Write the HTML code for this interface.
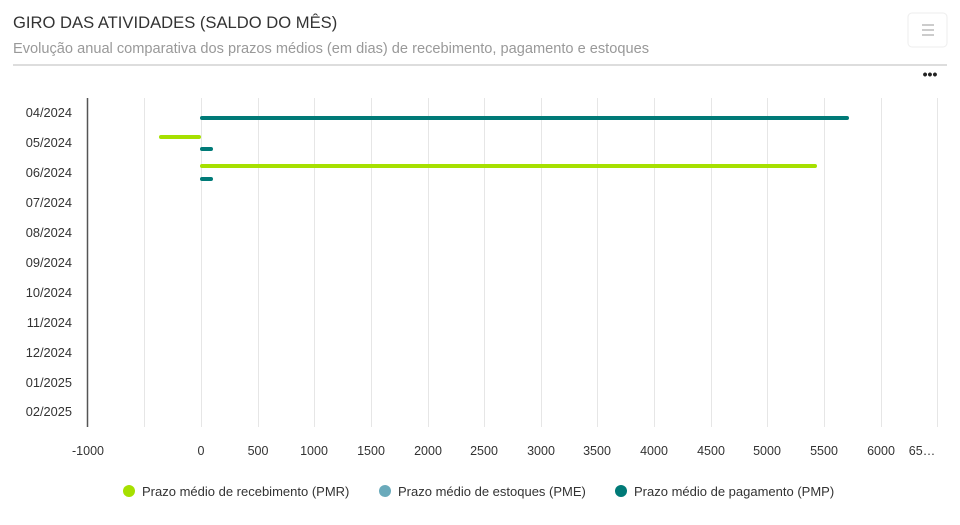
<!DOCTYPE html>
<html><head><meta charset="utf-8"><style>
body{margin:0;background:#fff;font-family:"Liberation Sans",sans-serif;}
</style></head><body>
<svg width="960" height="520" xmlns="http://www.w3.org/2000/svg" font-family="Liberation Sans, sans-serif">
<text x="13" y="28" font-size="16.6" fill="#333">GIRO DAS ATIVIDADES (SALDO DO MÊS)</text>
<text x="13" y="53" font-size="14.6" fill="#999">Evolução anual comparativa dos prazos médios (em dias) de recebimento, pagamento e estoques</text>
<rect x="908" y="13" width="39" height="34" rx="4" fill="#fff" stroke="#eee"/>
<g stroke="#ccc" stroke-width="2"><line x1="922" y1="25" x2="934" y2="25"/><line x1="922" y1="30" x2="934" y2="30"/><line x1="922" y1="35" x2="934" y2="35"/></g>
<line x1="13" y1="65" x2="947" y2="65" stroke="#ddd" stroke-width="2"/>
<text x="930" y="79" font-size="14" font-weight="bold" fill="#222" text-anchor="middle">•••</text>
<g stroke="#e6e6e6" stroke-width="1">
<line x1="144.5" y1="98" x2="144.5" y2="427"/><line x1="201.5" y1="98" x2="201.5" y2="427"/><line x1="258.5" y1="98" x2="258.5" y2="427"/><line x1="314.5" y1="98" x2="314.5" y2="427"/><line x1="371.5" y1="98" x2="371.5" y2="427"/><line x1="428.5" y1="98" x2="428.5" y2="427"/><line x1="484.5" y1="98" x2="484.5" y2="427"/><line x1="541.5" y1="98" x2="541.5" y2="427"/><line x1="597.5" y1="98" x2="597.5" y2="427"/><line x1="654.5" y1="98" x2="654.5" y2="427"/><line x1="711.5" y1="98" x2="711.5" y2="427"/><line x1="767.5" y1="98" x2="767.5" y2="427"/><line x1="824.5" y1="98" x2="824.5" y2="427"/><line x1="881.5" y1="98" x2="881.5" y2="427"/><line x1="937.5" y1="98" x2="937.5" y2="427"/>
</g>
<line x1="87.5" y1="98" x2="87.5" y2="427" stroke="#555" stroke-width="1.5"/>
<g font-size="12.8" fill="#333" text-anchor="end">
<text x="72" y="117">04/2024</text><text x="72" y="147">05/2024</text><text x="72" y="177">06/2024</text><text x="72" y="207">07/2024</text><text x="72" y="237">08/2024</text><text x="72" y="267">09/2024</text><text x="72" y="297">10/2024</text><text x="72" y="327">11/2024</text><text x="72" y="357">12/2024</text><text x="72" y="387">01/2025</text><text x="72" y="416">02/2025</text>
</g>
<g font-size="12.5" fill="#333" text-anchor="middle">
<text x="88" y="455">-1000</text><text x="201" y="455">0</text><text x="258" y="455">500</text><text x="314" y="455">1000</text><text x="371" y="455">1500</text><text x="428" y="455">2000</text><text x="484" y="455">2500</text><text x="541" y="455">3000</text><text x="597" y="455">3500</text><text x="654" y="455">4000</text><text x="711" y="455">4500</text><text x="767" y="455">5000</text><text x="824" y="455">5500</text><text x="881" y="455">6000</text><text x="922" y="455">65…</text>
</g>
<g stroke-linecap="round" stroke-width="4">
<line x1="202" y1="118" x2="847" y2="118" stroke="#007a77"/>
<line x1="161" y1="137" x2="199" y2="137" stroke="#a6e000"/>
<line x1="202" y1="149" x2="211" y2="149" stroke="#007a77"/>
<line x1="202" y1="166" x2="815" y2="166" stroke="#a6e000"/>
<line x1="202" y1="179" x2="211" y2="179" stroke="#007a77"/>
</g>
<g font-size="13" fill="#333">
<circle cx="129" cy="491" r="6" fill="#a6e000"/><text x="142" y="496">Prazo médio de recebimento (PMR)</text>
<circle cx="385" cy="491" r="6" fill="#6aaabb"/><text x="398" y="496">Prazo médio de estoques (PME)</text>
<circle cx="621" cy="491" r="6" fill="#007a77"/><text x="634" y="496">Prazo médio de pagamento (PMP)</text>
</g>
</svg>
</body></html>
